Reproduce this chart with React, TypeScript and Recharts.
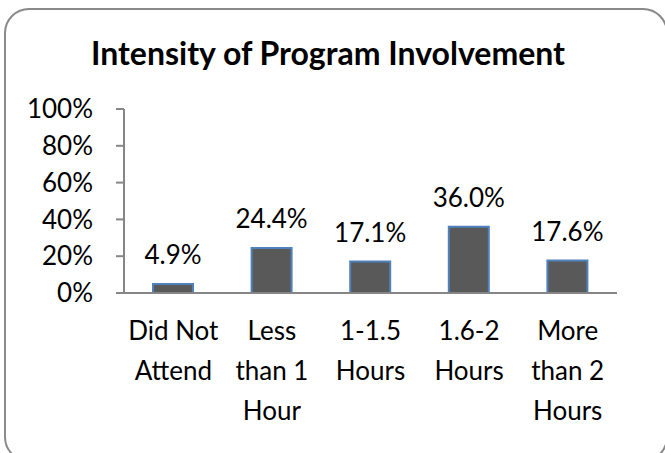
import React from 'react';
import { BarChart, Bar, XAxis, YAxis, LabelList } from 'recharts';

const categories = ['Did Not Attend', 'Less than 1 Hour', '1-1.5 Hours', '1.6-2 Hours', 'More than 2 Hours'];
const categoryLines = [
  ['Did Not', 'Attend'],
  ['Less', 'than 1', 'Hour'],
  ['1-1.5', 'Hours'],
  ['1.6-2', 'Hours'],
  ['More', 'than 2', 'Hours'],
];
const shares = [0.049, 0.244, 0.171, 0.36, 0.176];
const yTicks = [0, 0.2, 0.4, 0.6, 0.8, 1];

const FONT = 'Lato, "Open Sans", sans-serif';

const data = categories.map((name, i) => ({ name, value: shares[i] }));

const CategoryTick = ({ x, y, payload }: any) => {
  const idx = categories.indexOf(payload.value);
  const lines = categoryLines[idx] || [payload.value];
  return (
    <text x={x} y={y} textAnchor="middle" fill="#000" fontSize={26} fontFamily={FONT}>
      {lines.map((l, i) => (
        <tspan key={i} x={x} dy={i === 0 ? 39 : 40}>{l}</tspan>
      ))}
    </text>
  );
};

export default function App() {
  return (
    <div style={{ position: 'absolute', left: 0, top: 0, width: 665, height: 453, overflow: 'hidden', background: '#fff' }}>
      <div style={{
        position: 'absolute', left: 4, top: 8, width: 664, height: 454, boxSizing: 'border-box',
        border: '2px solid #8a8a8a', borderRadius: 25,
      }} />
      <div style={{
        position: 'absolute', left: 0, top: 33, width: 656, textAlign: 'center',
        fontFamily: FONT, fontWeight: 'bold', fontSize: 32, color: '#000', lineHeight: '40px',
      }}>
        Intensity of Program Involvement
      </div>
      <div style={{ position: 'absolute', left: 0, top: 0 }}>
        <BarChart
          width={665}
          height={453}
          data={data}
          margin={{ top: 109, right: 48, left: 0, bottom: 0 }}
          barCategoryGap={0}
        >
          <XAxis
            dataKey="name"
            axisLine={{ stroke: '#868686', strokeWidth: 2 }}
            tickLine={false}
            tick={<CategoryTick />}
            interval={0}
            height={160}
          />
          <YAxis
            width={124}
            domain={[0, 1]}
            ticks={yTicks}
            interval={0}
            tickFormatter={(v: number) => `${Math.round(v * 100)}%`}
            axisLine={{ stroke: '#868686', strokeWidth: 2 }}
            tickLine={{ stroke: '#868686', strokeWidth: 2 }}
            tickSize={8}
            tickMargin={23}
            tick={{ fill: '#000', fontSize: 26, fontFamily: FONT }}
          />
          <Bar dataKey="value" fill="#595959" stroke="#4f81bd" strokeWidth={2} barSize={40} isAnimationActive={false}>
            <LabelList
              dataKey="value"
              position="top"
              offset={20}
              formatter={(v: any) => `${(Number(v) * 100).toFixed(1)}%`}
              style={{ fill: '#000', fontSize: 26, fontFamily: FONT }}
            />
          </Bar>
        </BarChart>
      </div>
    </div>
  );
}
